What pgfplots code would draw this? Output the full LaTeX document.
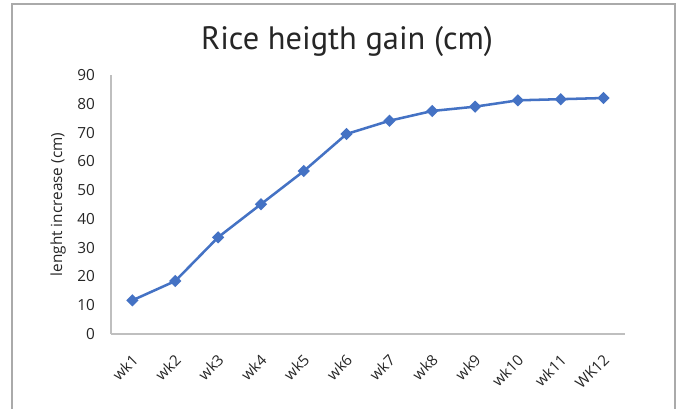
\documentclass[border=0pt]{standalone}
\usepackage{pgfplots}
\pgfplotsset{compat=1.18}
\usepackage{fontspec}
\setmainfont{Open Sans}
\newfontfamily\titlefont{PT Sans}
\definecolor{excelblue}{HTML}{4472C4}
\definecolor{axgray}{HTML}{BFBFBF}
\definecolor{txt}{HTML}{262626}
\begin{document}
\begin{tikzpicture}[x=0.75pt,y=0.75pt]
\useasboundingbox (0,0) rectangle (683,409);
\draw[color={rgb,255:red,170;green,170;blue,170}, line width=0.9pt] (12,-5) -- (12,405) -- (675,405) -- (675,-5);
\node[font=\titlefont\fontsize{24.3pt}{28pt}\selectfont, text=txt] at (347,367) {Rice heigth gain (cm)};
\begin{axis}[
  at={(83.25pt,56.25pt)}, anchor=south west,
  width=385.5pt, height=194.25pt, scale only axis,
  xmin=0.5, xmax=12.5, ymin=0, ymax=90,
  ytick={0,10,...,90},
  xtick={1,...,12},
  xticklabels={wk1,wk2,wk3,wk4,wk5,wk6,wk7,wk8,wk9,wk10,wk11,WK12},
  x tick label style={xshift=4.5pt, yshift=-15pt, rotate=45, anchor=east, font=\fontsize{11.3pt}{12pt}\selectfont, text=txt},
  y tick label style={xshift=-8.5pt, font=\fontsize{11.5pt}{12pt}\selectfont, text=txt},
  /pgf/number format/assume math mode=true,
  axis x line*=bottom, axis y line*=left,
  axis line style={axgray, line width=0.8pt, -},
  major tick length=0pt,
  ylabel={lenght increase (cm)},
  ylabel style={at={(axis description cs:-0.103,0.5)}, anchor=center, rotate=0, font=\fontsize{11.5pt}{12pt}\selectfont, text=txt},
  clip=false,
]
\addplot[color=excelblue, line width=1.9pt, mark=square*, mark size=2.3pt, mark options={rotate=45, solid, fill=excelblue}]
coordinates {(1,11.7) (2,18.4) (3,33.6) (4,45.1) (5,56.6) (6,69.5) (7,74.1) (8,77.5) (9,79.0) (10,81.2) (11,81.6) (12,82.0)};
\end{axis}
\end{tikzpicture}
\end{document}
